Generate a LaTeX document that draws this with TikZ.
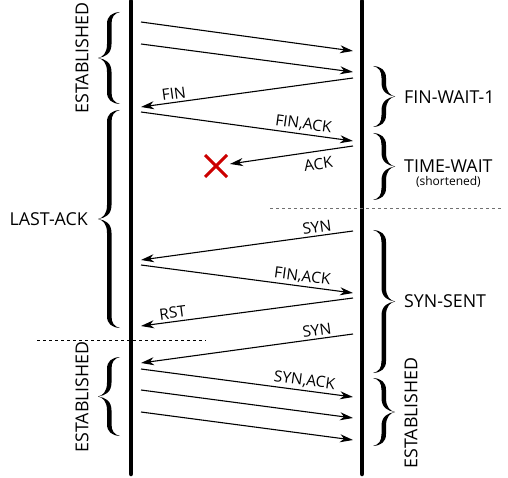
\documentclass[tikz,border=0pt]{standalone}
\usepackage{fontspec}
\setmainfont{Open Sans}
\usetikzlibrary{arrows.meta,positioning,shapes.misc}
\definecolor{lostred}{HTML}{CC0000}
\definecolor{divgray}{HTML}{707070}

\begin{document}
\begin{tikzpicture}[x=1pt, y=-1pt,
    timeline/.style={line width=4.5pt, line cap=round},
    msg/.style={line width=1.1pt, -{Stealth[length=13pt, width=8pt, inset=4pt]}},
    msglabel/.style={font=\fontsize{15.5}{18}\selectfont, sloped, inner sep=2.5pt},
    state/.style={font=\fontsize{17.8}{21}\selectfont, inner sep=0pt},
    divider/.style={dashed, dash pattern=on 3pt off 3pt, line width=0.9pt},
    brc/.pic={
        \fill (22,{#1}) .. controls (14,{#1-0.5}) and (9,{#1-4}) .. (9,{#1-12})
            -- (9,14) .. controls (9,5) and (5,1) .. (0,0)
            .. controls (5,-1) and (9,-5) .. (9,-14)
            -- (9,{-#1+12}) .. controls (9,{-#1+4}) and (14,{-#1+0.5}) .. (22,{-#1})
            .. controls (16,{-#1+1.5}) and (13.5,{-#1+5}) .. (13.5,{-#1+12})
            -- (13.5,-14) .. controls (13.5,-4) and (7,-1) .. (0,0)
            .. controls (7,1) and (13.5,4) .. (13.5,14)
            -- (13.5,{#1-12}) .. controls (13.5,{#1-5}) and (16,{#1-1.5}) .. (22,{#1}) -- cycle;
    }]
    \useasboundingbox (0,0) rectangle (508,478);

    % the two hosts
    \draw[timeline] (131,1) -- (131,474);
    \draw[timeline] (362,1) -- (362,474);

    % message end points
    \coordinate (l1) at (141,22);   \coordinate (r1) at (353,51);
    \coordinate (l2) at (141,44);   \coordinate (r2) at (353,72);
    \coordinate (r3) at (353,78);   \coordinate (l3) at (141,107);
    \coordinate (l4) at (141,112);  \coordinate (r4) at (353,141);
    \coordinate (r5) at (353,146);
    \coordinate (r6) at (353,231);  \coordinate (l6) at (141,260);
    \coordinate (l7) at (141,265);  \coordinate (r7) at (353,293);
    \coordinate (r8) at (353,298);  \coordinate (l8) at (141,326);
    \coordinate (r9) at (353,334);  \coordinate (l9) at (141,363);
    \coordinate (l10) at (141,369); \coordinate (r10) at (353,397);
    \coordinate (l11) at (141,390); \coordinate (r11) at (353,418);
    \coordinate (l12) at (141,412); \coordinate (r12) at (353,440);

    \node[cross out, draw=lostred, line width=3pt, minimum size=19pt, inner sep=0pt] (lost) at (216,166) {};

    % messages
    \draw[msg] (l1) -- (r1);
    \draw[msg] (l2) -- (r2);
    \draw[msg] (r3) -- node[msglabel, pos=0.84, above] {FIN} (l3);
    \draw[msg] (l4) -- node[msglabel, pos=0.76, above] {FIN,ACK} (r4);
    \draw[msg, shorten >=3pt] (r5) -- node[msglabel, pos=0.29, below=4pt] {ACK} (lost);
    \draw[msg] (r6) -- node[msglabel, pos=0.165, above] {SYN} (l6);
    \draw[msg] (l7) -- node[msglabel, pos=0.755, above] {FIN,ACK} (r7);
    \draw[msg] (r8) -- node[msglabel, pos=0.845, above] {RST} (l8);
    \draw[msg] (r9) -- node[msglabel, pos=0.165, above] {SYN} (l9);
    \draw[msg] (l10) -- node[msglabel, pos=0.765, above] {SYN,ACK} (r10);
    \draw[msg] (l11) -- (r11);
    \draw[msg] (l12) -- (r12);

    % states of the left host
    \pic at (98,58) {brc=46};
    \pic at (98,219) {brc=109};
    \pic at (98,396.5) {brc=39.5};
    \node[state, rotate=90] (estleft) at (82,58) {ESTABLISHED};
    \node[state, anchor=east] (lastack) at (88,219) {LAST-ACK};
    \node[state, rotate=90] (estleftb) at (82,397) {ESTABLISHED};

    % states of the right host
    \pic[xscale=-1] at (395,96.5) {brc=30.5};
    \pic[xscale=-1] at (395,166.5) {brc=33.5};
    \pic[xscale=-1] at (395,301.5) {brc=71.5};
    \pic[xscale=-1] at (395,412) {brc=34};
    \node[state, anchor=west] (finwait) at (404,97) {FIN-WAIT-1};
    \node[state, anchor=west] (timewait) at (404,166) {TIME-WAIT};
    \node[font=\fontsize{12}{14}\selectfont, inner sep=0pt, below=4pt of timewait] (shortnote) {(shortened)};
    \node[state, anchor=west] (synsent) at (404,301) {SYN-SENT};
    \node[state, rotate=90] (estright) at (411,413) {ESTABLISHED};

    % restarts
    \draw[divider, divgray] (270,208) -- (503,208);
    \draw[divider] (37,340) -- (206,340);
\end{tikzpicture}
\end{document}
